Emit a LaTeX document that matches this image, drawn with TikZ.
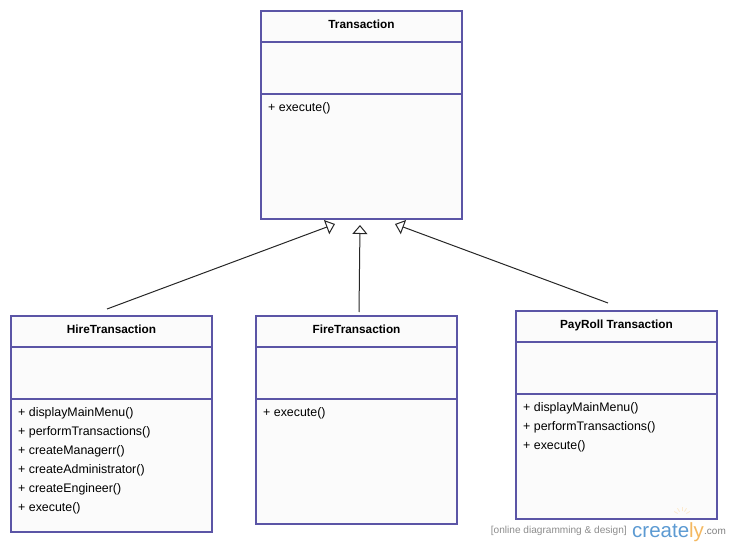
\documentclass[tikz,border=0pt]{standalone}
\usepackage{fontspec}
\setmainfont{Liberation Sans}
\usetikzlibrary{arrows.meta, positioning}
\definecolor{umlline}{HTML}{5B55A6}
\definecolor{umlfill}{HTML}{FBFBFB}
\definecolor{markblue}{HTML}{5C9AD2}
\definecolor{markorange}{HTML}{F4B860}
\begin{document}
\begin{tikzpicture}[
            x=1pt, y=1pt,
            node distance=0pt,
            part/.style={draw=umlline, fill=umlfill, rectangle, minimum width=201pt, outer sep=0pt, inner sep=0pt, line width=2pt},
            title/.style={part, minimum height=31pt, text height=8pt, text depth=4.5pt, font=\fontsize{11.8}{13}\selectfont\bfseries, text=black},
            attrs/.style={part, minimum height=52pt},
            ops/.style={part, minimum height=125pt},
            members/.style={align=left, inner sep=0pt, font=\fontsize{12.4}{19}\selectfont},
            inherit/.style={-{Triangle[open, length=9pt, width=15pt]}, line width=1pt, draw=black!85}
        ]
        \useasboundingbox (0,0) rectangle (730,-545);

        \node[title] (trans_name) at (361.5,-26.5) {Transaction};
        \node[attrs, below=0pt of trans_name] (trans_attrs) {};
        \node[ops, below=0pt of trans_attrs] (trans_ops) {};
        \node[members, below right=8.5pt and 7pt of trans_ops.north west] (trans_list) {+ execute()};

        \node[title, below left=97pt and 49pt of trans_ops] (hire_name) {HireTransaction};
        \node[attrs, below=0pt of hire_name] (hire_attrs) {};
        \node[ops, minimum height=133pt, below=0pt of hire_attrs] (hire_ops) {};
        \node[members, below right=8.5pt and 7pt of hire_ops.north west] (hire_list) {+ displayMainMenu()\\+ performTransactions()\\+ createManagerr()\\+ createAdministrator()\\+ createEngineer()\\+ execute()};

        \node[title, below=97pt of trans_ops, xshift=-5pt] (fire_name) {FireTransaction};
        \node[attrs, below=0pt of fire_name] (fire_attrs) {};
        \node[ops, below=0pt of fire_attrs] (fire_ops) {};
        \node[members, below right=8.5pt and 7pt of fire_ops.north west] (fire_list) {+ execute()};

        \node[title, below right=92pt and 54pt of trans_ops] (pay_name) {PayRoll Transaction};
        \node[attrs, below=0pt of pay_name] (pay_attrs) {};
        \node[ops, below=0pt of pay_attrs] (pay_ops) {};
        \node[members, below right=8.5pt and 7pt of pay_ops.north west] (pay_list) {+ displayMainMenu()\\+ performTransactions()\\+ execute()};

        \coordinate[below left=5pt and 26.5pt of trans_ops.south] (hire_tip);
        \coordinate[below left=6pt and 1.5pt of trans_ops.south] (fire_tip);
        \coordinate[below right=5pt and 33.5pt of trans_ops.south] (pay_tip);
        \coordinate[above left=7pt and 4.5pt of hire_name.north] (hire_tail);
        \coordinate[above right=4pt and 2.5pt of fire_name.north] (fire_tail);
        \coordinate[above left=8pt and 8.5pt of pay_name.north] (pay_tail);

        \draw[inherit] (hire_tail) -- (hire_tip);
        \draw[inherit] (fire_tail) -- (fire_tip);
        \draw[inherit] (pay_tail) -- (pay_tip);

        \foreach \ang in {30,60,...,150}
            \draw[markorange!30, line width=0.8pt] (682,-516) ++(\ang:5) -- ++(\ang:4);

        \node[anchor=base east, inner sep=0pt, font=\fontsize{10.1}{11}\selectfont, text=black!45] (mark_tag) at (627,-533) {[online diagramming \& design]};
        \node[anchor=base west, inner sep=0pt, font=\fontsize{20.5}{24}\selectfont, text=markblue] (mark_name) at (632,-537) {create\textcolor{markorange}{ly}};
        \node[anchor=base west, inner sep=0pt, font=\fontsize{10}{11}\selectfont, text=black!50] (mark_com) at (704,-534) {.com};
        \end{tikzpicture}
\end{document}
